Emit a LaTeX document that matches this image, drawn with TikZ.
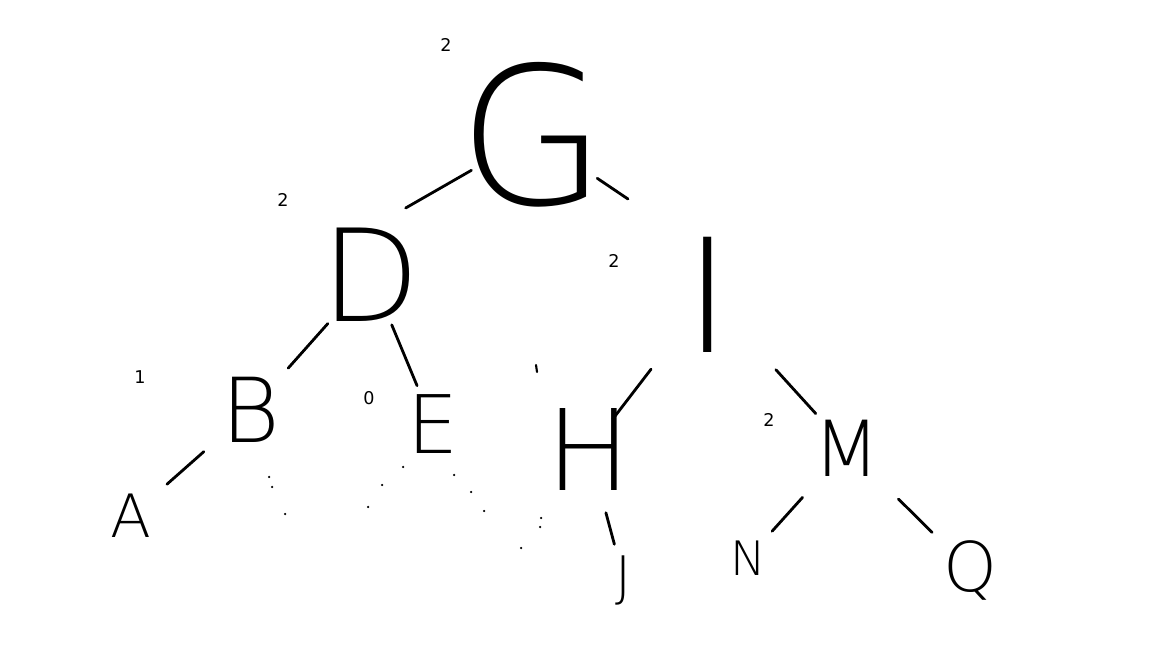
\documentclass[tikz,border=0pt]{standalone}
\usepackage{fontspec}
\setmainfont{DejaVu Sans}[UprightFont={* ExtraLight}]
\newfontfamily\numfont{DejaVu Sans}

\begin{document}
\begin{tikzpicture}[
  ltr/.style={inner sep=0pt, font=\fontsize{#1}{#1}\selectfont},
  num/.style={inner sep=0pt, font=\numfont\fontsize{10}{10}\selectfont},
  link/.style={line width=1.6pt, line cap=round}]
\useasboundingbox (0,0) rectangle (23.04,12.96);
% tree letters
\node[ltr=109] (G) at (10.66,10.26) {G};
\node[ltr=73] (D) at (7.42,7.46) {D};
\node[ltr=90] (I) at (14.16,7.06) {I};
\node[ltr=51] (B) at (5.02,4.76) {B};
\node[ltr=46] (E) at (8.66,4.48) {E};
\node[ltr=64] (H) at (11.78,3.96) {H};
\node[ltr=44] (M) at (16.94,4.00) {M};
\node[ltr=34] (A) at (2.62,2.64) {A};
\node[ltr=31] (J) at (12.48,1.36) {J};
\node[ltr=27] (N) at (14.96,1.80) {N};
\node[ltr=39] (Q) at (19.40,1.56) {Q};
% heights
\node[num] (hG) at (8.92,12.06) {2};
\node[num] (hD) at (5.66,8.96) {2};
\node[num] (hI) at (12.28,7.74) {2};
\node[num] (hB) at (2.80,5.42) {1};
\node[num] (hE) at (7.38,5.00) {0};
\node[num] (hM) at (15.38,4.56) {2};
% edges
\draw[link, shorten <=1.42cm, shorten >=0.80cm] (G.center) -- (D.north);
\draw[link, shorten <=1.55cm, shorten >=1.36cm] (G.center) -- (I.north west);
\draw[link, shorten <=1.30cm, shorten >=1.12cm] (D.center) -- (B.center);
\draw[link, shorten <=1.08cm, shorten >=0.83cm] (D.center) -- (E.center);
\draw[link, shorten <=1.26cm, shorten >=0.96cm] (B.center) -- (A.center);
\draw[link, shorten <=1.87cm, shorten >=0.78cm] (I.center) -- (H.center);
\draw[link, shorten <=2.02cm, shorten >=0.93cm] (I.center) -- (M.center);
\draw[link, shorten <=1.30cm, shorten >=0.74cm] (H.center) -- (J.center);
\draw[link, shorten <=1.33cm, shorten >=0.72cm] (M.center) -- (N.center);
\draw[link, shorten <=1.45cm, shorten >=1.07cm] (M.center) -- (Q.center);
% stray marks
\foreach \x/\y in {5.38/3.42, 5.44/3.22, 5.70/2.68, 8.06/3.62, 7.64/3.26,
    7.36/2.82, 9.08/3.46, 9.42/3.12, 9.68/2.74, 10.82/2.60, 10.80/2.42, 10.42/2.00}
  \fill (\x,\y) circle (0.025);
\draw[line width=1.2pt, line cap=round] (10.72,5.66) -- (10.74,5.52);
\end{tikzpicture}
\end{document}
